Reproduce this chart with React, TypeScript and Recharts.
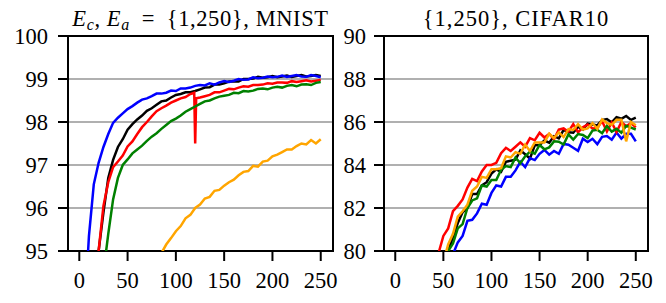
import React from 'react';
import { LineChart, Line, XAxis, YAxis, CartesianGrid, ReferenceArea } from 'recharts';

const epochs = [1, 5, 10, 15, 20, 25, 30, 35, 40, 45, 50, 55, 60, 65, 70, 75, 80, 85, 90, 95, 100, 105, 110, 115, 120, 125, 130, 135, 140, 145, 150, 155, 160, 165, 170, 175, 180, 185, 190, 195, 200, 205, 210, 215, 220, 225, 230, 235, 240, 245, 250];
const mnistRedEpochs = [1, 5, 10, 15, 20, 25, 30, 35, 40, 45, 50, 55, 60, 65, 70, 75, 80, 85, 90, 95, 100, 105, 110, 115, 119, 120, 121, 125, 130, 135, 140, 145, 150, 155, 160, 165, 170, 175, 180, 185, 190, 195, 200, 205, 210, 215, 220, 225, 230, 235, 240, 245, 250];

const xTicks = [0, 50, 100, 150, 200, 250];
const mnistYTicks = [95, 96, 97, 98, 99, 100];
const cifarYTicks = [80, 82, 84, 86, 88, 90];

const mnistBlue = [90.0, 93.4, 95.35, 96.55, 97.05, 97.42, 97.72, 97.98, 98.1, 98.2,
  98.3, 98.37, 98.45, 98.52, 98.55, 98.6, 98.66, 98.66, 98.68, 98.73,
  98.72, 98.78, 98.78, 98.8, 98.84, 98.86, 98.85, 98.9, 98.87, 98.92,
  98.95, 98.93, 98.96, 99.0, 98.98, 98.99, 99.04, 99.02, 99.03, 99.06,
  99.04, 99.05, 99.08, 99.05, 99.07, 99.09, 99.06, 99.05, 99.09, 99.07, 99.04];
const mnistBlack = [88.0, 90.5, 92.6, 94.0, 95.0, 95.9, 96.7, 97.12, 97.42, 97.6,
  97.82, 97.95, 98.06, 98.15, 98.26, 98.32, 98.4, 98.48, 98.5, 98.57,
  98.63, 98.65, 98.69, 98.69, 98.72, 98.76, 98.8, 98.81, 98.87, 98.87,
  98.9, 98.94, 98.95, 98.94, 99.0, 99.0, 99.01, 99.05, 99.03, 99.04,
  99.07, 99.04, 99.06, 99.08, 99.05, 99.07, 99.09, 99.06, 99.07, 99.09, 99.07];
const mnistRed = [88.5, 90.6, 92.6, 94.0, 95.0, 96.05, 96.6, 96.95, 97.08, 97.22,
  97.43, 97.55, 97.72, 97.88, 98.0, 98.13, 98.25, 98.32, 98.38, 98.45,
  98.5, 98.55, 98.58, 98.65, 98.68, 97.5, 98.55,
  98.57, 98.6, 98.63, 98.69, 98.69, 98.73, 98.77, 98.76, 98.8, 98.83,
  98.82, 98.86, 98.86, 98.87, 98.9, 98.89, 98.92, 98.92, 98.91, 98.95,
  98.93, 98.95, 98.97, 98.94, 98.96, 98.98];
const mnistGreen = [86.0, 88.5, 90.5, 92.2, 93.5, 94.5, 95.4, 96.2, 96.7, 97.0,
  97.13, 97.27, 97.36, 97.45, 97.56, 97.66, 97.74, 97.84, 97.93, 98.02,
  98.08, 98.15, 98.24, 98.3, 98.36, 98.42, 98.48, 98.5, 98.55, 98.59,
  98.61, 98.63, 98.68, 98.67, 98.72, 98.71, 98.73, 98.77, 98.78, 98.76,
  98.8, 98.82, 98.8, 98.84, 98.86, 98.83, 98.87, 98.88, 98.86, 98.91, 98.93];
const mnistOrange = [85.0, 86.5, 87.5, 88.3, 89.0, 89.6, 90.2, 90.8, 91.3, 91.8,
  92.3, 92.8, 93.3, 93.7, 94.1, 94.45, 94.75, 94.95, 95.15, 95.3,
  95.46, 95.58, 95.76, 95.84, 96.0, 96.08, 96.22, 96.26, 96.4, 96.42,
  96.52, 96.6, 96.66, 96.76, 96.84, 96.86, 96.98, 96.96, 97.08, 97.1,
  97.2, 97.24, 97.3, 97.36, 97.36, 97.44, 97.5, 97.48, 97.58, 97.5, 97.6];

const cifarRed = [70, 72, 73.5, 74.8, 75.9, 76.9, 77.8, 78.6, 79.3, 79.9,
  80.7, 81.05, 81.85, 82.1, 82.4, 82.95, 83.35, 83.25, 83.7, 84.0,
  84.0, 84.1, 84.55, 84.8, 84.65, 84.85, 85.05, 84.85, 85.25, 85.15,
  85.5, 85.28, 85.45, 85.2, 85.65, 85.7, 85.55, 85.9, 85.52, 85.76,
  85.88, 85.7, 85.72, 86.04, 85.56, 85.98, 85.53, 86.0, 85.8, 85.95, 85.75];
const cifarOrange = [68, 70, 71.8, 73.3, 74.5, 75.6, 76.6, 77.5, 78.3, 79.0,
  79.5, 80.3, 80.8, 81.6, 81.85, 82.15, 82.8, 83.0, 83.45, 83.4,
  83.8, 83.8, 83.85, 84.4, 84.35, 84.6, 84.52, 84.95, 84.65, 85.05,
  85.05, 85.05, 85.45, 85.25, 85.52, 85.3, 85.67, 85.63, 85.9, 85.65,
  85.7, 85.95, 85.68, 86.12, 85.95, 85.87, 86.1, 86.1, 85.1, 86.0, 85.85];
const cifarGreen = [66, 68.5, 70.5, 72.2, 73.6, 74.9, 76.0, 77.0, 77.9, 78.7,
  79.3, 80.0, 80.35, 81.05, 81.25, 82.0, 82.35, 82.45, 83.05, 83.0,
  83.3, 83.3, 83.78, 83.95, 83.9, 84.35, 84.08, 84.4, 84.62, 84.53,
  84.93, 84.73, 84.82, 85.1, 85.08, 84.95, 85.42, 85.18, 85.44, 85.4,
  85.25, 85.6, 85.64, 85.48, 85.82, 85.55, 85.68, 85.5, 85.82, 85.74, 85.65];
const cifarBlack = [67, 69.5, 71.4, 73.0, 74.3, 75.5, 76.5, 77.4, 78.2, 78.9,
  79.6, 80.0, 80.65, 81.3, 81.8, 82.0, 82.65, 82.65, 83.05, 83.2,
  83.6, 83.8, 83.68, 84.15, 84.2, 84.25, 84.68, 84.5, 84.3, 84.92,
  84.93, 85.14, 85.04, 85.34, 85.24, 85.63, 85.52, 85.5, 85.78, 85.65,
  85.92, 85.88, 85.84, 86.09, 86.14, 85.98, 86.22, 86.15, 86.28, 86.1, 86.2];
const cifarBlue = [64, 66.5, 68.7, 70.5, 72.0, 73.4, 74.6, 75.7, 76.7, 77.6,
  78.4, 79.0, 79.85, 80.4, 80.7, 81.4, 81.45, 81.75, 82.2, 82.15,
  82.7, 83.05, 83.0, 83.45, 83.45, 83.75, 84.15, 83.9, 84.32, 84.23,
  84.52, 84.7, 84.48, 84.65, 84.52, 84.98, 84.94, 84.8, 84.66, 85.22,
  85.07, 85.22, 84.97, 85.31, 85.35, 85.18, 85.51, 85.23, 85.45, 85.45, 85.1];

const toRows = (xs: number[], ys: number[]) => xs.map((x, i) => ({ ep: x, v: ys[i] }));

const FONT = 'Liberation Serif';
const X_DOMAIN: [number, number] = [-11.7, 262.7];
const tickStyle = { fontSize: 22.5, fill: '#000', fontFamily: FONT, style: { fontFamily: FONT } };
const tickLineStyle = { stroke: '#000', strokeWidth: 2 };

type Series = { name: string; x: number[]; y: number[]; color: string };

const mnistSeries: Series[] = [
  { name: 'black', x: epochs, y: mnistBlack, color: '#000000' },
  { name: 'blue', x: epochs, y: mnistBlue, color: '#0000ff' },
  { name: 'red', x: mnistRedEpochs, y: mnistRed, color: '#ff0000' },
  { name: 'green', x: epochs, y: mnistGreen, color: '#008000' },
  { name: 'orange', x: epochs, y: mnistOrange, color: '#ffa500' },
];
const cifarSeries: Series[] = [
  { name: 'black', x: epochs, y: cifarBlack, color: '#000000' },
  { name: 'blue', x: epochs, y: cifarBlue, color: '#0000ff' },
  { name: 'red', x: epochs, y: cifarRed, color: '#ff0000' },
  { name: 'green', x: epochs, y: cifarGreen, color: '#008000' },
  { name: 'orange', x: epochs, y: cifarOrange, color: '#ffa500' },
];

function Panel(props: {
  width: number;
  marginRight: number;
  yWidth: number;
  yDomain: [number, number];
  yTicks: number[];
  yTickMargin: number;
  series: Series[];
}) {
  const { width, marginRight, yWidth, yDomain, yTicks, yTickMargin, series } = props;
  return (
    <LineChart width={width} height={303} margin={{ top: 36, right: marginRight, bottom: 0, left: 0 }} style={{ fontFamily: FONT }}>
      <CartesianGrid horizontal={true} vertical={false} stroke="#b0b0b0" strokeWidth={2} />
      <XAxis
        type="number"
        dataKey="ep"
        domain={X_DOMAIN}
        ticks={xTicks}
        allowDataOverflow
        interval={0}
        height={52}
        tickSize={10}
        tickMargin={11}
        tick={tickStyle}
        tickLine={tickLineStyle}
        axisLine={false}
      />
      <YAxis
        type="number"
        domain={yDomain}
        ticks={yTicks}
        allowDataOverflow
        interval={0}
        width={yWidth}
        tickSize={10}
        tickMargin={yTickMargin}
        tick={tickStyle}
        tickLine={tickLineStyle}
        axisLine={false}
      />
      {series.map((s) => (
        <Line
          key={s.name}
          data={toRows(s.x, s.y)}
          dataKey="v"
          type="linear"
          stroke={s.color}
          strokeWidth={2.5}
          dot={false}
          activeDot={false}
          isAnimationActive={false}
        />
      ))}
      <ReferenceArea
        x1={X_DOMAIN[0]}
        x2={X_DOMAIN[1]}
        y1={yDomain[0]}
        y2={yDomain[1]}
        fill="none"
        fillOpacity={0}
        stroke="#000"
        strokeWidth={2}
        strokeOpacity={1}
      />
    </LineChart>
  );
}

export default function App() {
  return (
    <div style={{ position: 'absolute', left: 0, top: 0, width: 666, height: 303, background: '#fff', overflow: 'hidden', fontFamily: FONT }}>
      <div style={{ position: 'absolute', left: 0, top: 0 }}>
        <Panel width={340} marginRight={7} yWidth={68} yDomain={[95, 100]} yTicks={mnistYTicks} yTickMargin={10} series={mnistSeries} />
      </div>
      <div style={{ position: 'absolute', left: 333, top: 0 }}>
        <Panel width={333} marginRight={18} yWidth={51} yDomain={[80, 90]} yTicks={cifarYTicks} yTickMargin={8} series={cifarSeries} />
      </div>
      <svg width={666} height={303} style={{ position: 'absolute', left: 0, top: 0, pointerEvents: 'none', fontFamily: FONT }}>
        <text x={200.5} y={26} textAnchor="middle" fontSize={22.5} fill="#000" letterSpacing={0.6} style={{ fontFamily: FONT }}>
          <tspan fontStyle="italic">E</tspan>
          <tspan fontStyle="italic" fontSize={16} dy={4}>c</tspan>
          <tspan dy={-4}>, </tspan>
          <tspan fontStyle="italic">E</tspan>
          <tspan fontStyle="italic" fontSize={16} dy={4}>a</tspan>
          <tspan dy={-4}>{'\u2002=\u2002{1,250}, MNIST'}</tspan>
        </text>
        <text x={516} y={26} textAnchor="middle" fontSize={22.5} fill="#000" letterSpacing={1} style={{ fontFamily: FONT }}>
          {'{1,250}, CIFAR10'}
        </text>
      </svg>
    </div>
  );
}
